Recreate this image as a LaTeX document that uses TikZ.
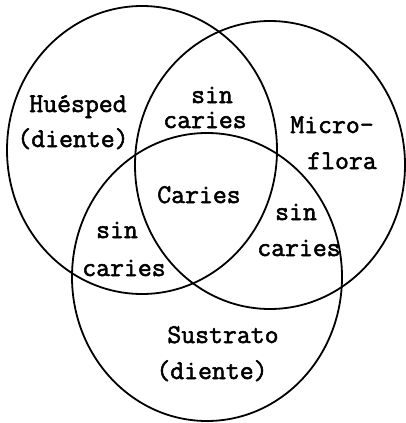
\documentclass[tikz,border=0pt]{standalone}
\usepackage{fontspec}
\newfontfamily\typefont{Latin Modern Mono}[FakeBold=2]
\usetikzlibrary{positioning}

\begin{document}
\begin{tikzpicture}[x=1pt,y=-1pt]

	% 定义样式
	\tikzset{
		circ/.style = {line width=1.8pt},
		lab/.style = {
			font=\fontsize{27}{32}\selectfont\typefont,
			inner sep=0pt, anchor=base
		}
	}

	% 参数设置
	\def \rx {135pt}
	\def \ry {144pt}

	\useasboundingbox (0,0) rectangle (406,423);

	% 三个圆
	\draw[circ] (142,150) ellipse [x radius=\rx, y radius=\ry];
	\draw[circ] (270,165) ellipse [x radius=\rx, y radius=\ry];
	\draw[circ] (207,277) ellipse [x radius=\rx, y radius=\ry];

	% 文字
	\node[lab] (huesped) at (78,112) {Huésped};
	\node[lab] (dienteA) at (73,147) {(diente)};
	\node[lab] (sinA) at (212,103) {sin};
	\node[lab] (cariesA) at (205,128) {caries};
	\node[lab] (micro) at (332,133) {Micro-};
	\node[lab] (flora) at (342,169) {flora};
	\node[lab] (caries) at (199,203) {Caries};
	\node[lab] (sinB) at (296,220) {sin};
	\node[lab] (cariesB) at (299,256) {caries};
	\node[lab] (sinC) at (117,238) {sin};
	\node[lab] (cariesC) at (124,276) {caries};
	\node[lab] (sustrato) at (223,343) {Sustrato};
	\node[lab] (dienteB) at (212,379) {(diente)};

\end{tikzpicture}
\end{document}
